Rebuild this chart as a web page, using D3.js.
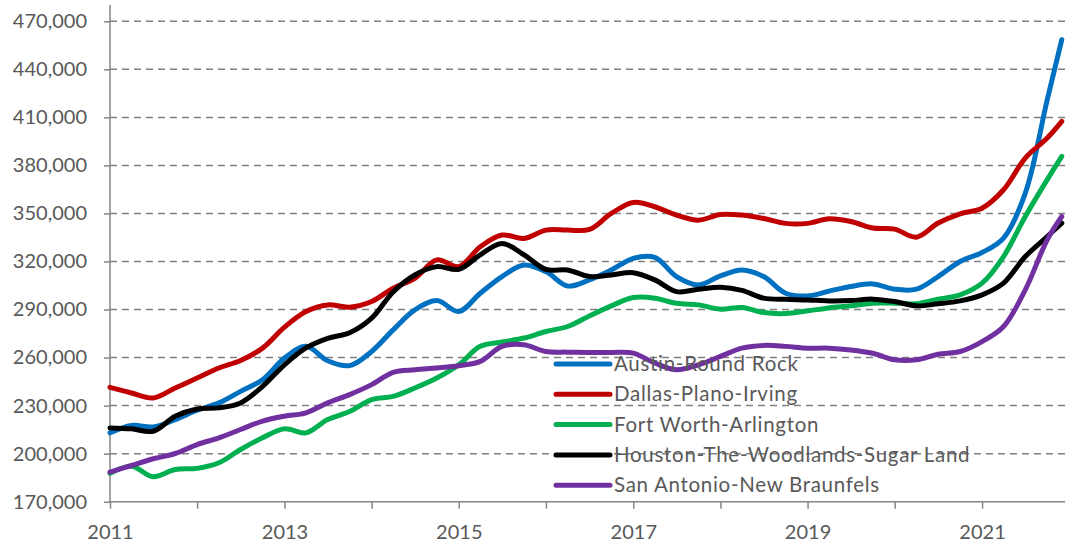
<!doctype html>
<html lang="en">
  <head>
    <meta charset="UTF-8" />
    <title>Texas metro home prices</title>
    <script src="https://unpkg.com/d3@7.9.0/dist/d3.min.js"></script>
    <style>
      body {
        margin: 0;
        overflow: hidden;
        background: #fff;
        font-family: Lato, 'Open Sans', sans-serif;
      }
      .tick text {
        font-size: 20px;
        fill: #595959;
      }
      .legend text {
        font-size: 20.5px;
        letter-spacing: 0.7px;
        fill: #595959;
      }
    </style>
  </head>
  <body>
    <svg width="1065" height="546"></svg>

    <script>
      // quarterly points, values in thousands of dollars
      const dates = [
        '2011-01', '2011-04', '2011-07', '2011-10',
        '2012-01', '2012-04', '2012-07', '2012-10',
        '2013-01', '2013-04', '2013-07', '2013-10',
        '2014-01', '2014-04', '2014-07', '2014-10',
        '2015-01', '2015-04', '2015-07', '2015-10',
        '2016-01', '2016-04', '2016-07', '2016-10',
        '2017-01', '2017-04', '2017-07', '2017-10',
        '2018-01', '2018-04', '2018-07', '2018-10',
        '2019-01', '2019-04', '2019-07', '2019-10',
        '2020-01', '2020-04', '2020-07', '2020-10',
        '2021-01', '2021-04', '2021-07', '2021-10',
        '2021-12',
      ];
      const austin = [
        213, 217.6, 216.7, 221.3, 227.1, 231.7, 238.9, 246.2, 259.7, 267, 258, 255,
        263.8, 277.3, 289.8, 295.6, 288.8, 300.2, 310.6, 317.8, 313.7, 304.7, 308.5, 314.7,
        322, 322.6, 310.6, 305.4, 311, 314.7, 310.6, 300.2, 298.5, 301.5, 304.4, 306,
        302.7, 302.7, 310.6, 320, 325.6, 334.6, 362.7, 421, 458.5,
      ];
      const dallas = [
        241.4, 237.9, 234.8, 241, 247.2, 253.5, 258.2, 265.9, 279, 288.8, 292.9, 291.5,
        295, 303.3, 309.5, 321, 316.8, 329.2, 336.5, 334.4, 339.6, 339.6, 340, 350,
        356.9, 354.2, 349, 345.8, 349.4, 349, 346.9, 343.8, 343.8, 346.7, 345, 340.9,
        340.2, 335.2, 344, 349.8, 353.3, 364.8, 384.6, 397.1, 407.5,
      ];
      const fortWorth = [
        187.7, 192.2, 185.6, 190.1, 190.8, 194.3, 202.6, 209.9, 215.5, 213, 221.3, 226.3,
        233.7, 235.8, 241, 247.2, 255.5, 267, 269.7, 272.2, 276.3, 279.4, 286, 292.3,
        297.5, 297.1, 293.9, 292.9, 290.2, 291.3, 288.1, 287.5, 289.2, 291, 292.3, 294,
        294, 293.6, 296.5, 299.2, 306.5, 323.1, 348.1, 371.1, 385.6,
      ];
      const houston = [
        216.1, 215.5, 214, 223.3, 227.9, 228.6, 231.7, 242, 255.5, 266, 272, 275.5,
        284.6, 301, 311.6, 316.8, 315.1, 324.2, 331.3, 324.2, 315.1, 314.7, 310.6, 311.6,
        313, 308.5, 301.2, 302.7, 303.9, 302, 297.1, 296.4, 296, 295.4, 295.6, 296.5,
        295, 292.3, 293.6, 295.4, 299.2, 306.5, 323.1, 335.6, 344,
      ];
      const sanAntonio = [
        188.5, 192.6, 196.8, 200.1, 205.7, 209.9, 215.1, 220.3, 223.4, 225.5, 231.7, 236.9,
        243.1, 250.8, 252.4, 253.5, 254.9, 257.6, 267, 268, 263.8, 263.4, 263.2, 263.2,
        262.8, 256.6, 252.4, 255.5, 260.7, 265.9, 267.6, 267, 265.9, 265.9, 264.8, 262.7,
        258.6, 258.6, 262.1, 263.8, 270, 279.4, 302.3, 333.6, 348.1,
      ];
      const names = [
        'Austin-Round Rock',
        'Dallas-Plano-Irving',
        'Fort Worth-Arlington',
        'Houston-The-Woodlands-Sugar Land',
        'San Antonio-New Braunfels',
      ];
      const colors = ['#0070C0', '#C00000', '#00B050', '#000000', '#7030A0'];
      const yTicks = [170, 200, 230, 260, 290, 320, 350, 380, 410, 440, 470];
      const xLabels = [2011, 2013, 2015, 2017, 2019, 2021];

      const series = [austin, dallas, fortWorth, houston, sanAntonio];
      const parse = d3.timeParse('%Y-%m');
      const time = dates.map(parse);

      const svg = d3.select('svg');
      const plotLeft = 110,
        plotRight = 1065,
        plotTop = 21.3,
        plotBottom = 501.7;

      const x = d3
        .scaleTime()
        .domain([new Date(2011, 0, 1), new Date(2022, 0, 1)])
        .range([plotLeft, 1069.2]);
      const y = d3.scaleLinear().domain([170, 470]).range([plotBottom, plotTop]);

      // dashed grid
      svg
        .append('g')
        .selectAll('line')
        .data(yTicks.slice(1))
        .join('line')
        .attr('x1', plotLeft)
        .attr('x2', plotRight)
        .attr('y1', (d) => y(d))
        .attr('y2', (d) => y(d))
        .attr('stroke', '#808080')
        .attr('stroke-width', 1.5)
        .attr('stroke-dasharray', '7,5');

      // y axis
      const yAxis = svg
        .append('g')
        .attr('transform', `translate(${plotLeft},0)`)
        .call(
          d3
            .axisLeft(y)
            .tickValues(yTicks)
            .tickSize(6)
            .tickPadding(17)
            .tickFormat((d) => d3.format(',')(d * 1000)),
        );
      yAxis.select('.domain').remove();
      yAxis.selectAll('.tick line').attr('stroke', '#868686').attr('stroke-width', 1.5);
      yAxis.selectAll('.tick text').attr('font-family', 'Lato, sans-serif');
      svg
        .append('line')
        .attr('x1', plotLeft)
        .attr('x2', plotLeft)
        .attr('y1', 5)
        .attr('y2', plotBottom)
        .attr('stroke', '#868686')
        .attr('stroke-width', 1.5);

      // x axis
      const xAxis = svg
        .append('g')
        .attr('transform', `translate(0,${plotBottom})`)
        .call(
          d3
            .axisBottom(x)
            .ticks(d3.timeYear.every(1))
            .tickSize(7)
            .tickPadding(16)
            .tickFormat((d) =>
              xLabels.includes(d.getFullYear()) ? d.getFullYear() : '',
            ),
        );
      xAxis.select('.domain').remove();
      xAxis.selectAll('.tick line').attr('stroke', '#868686').attr('stroke-width', 1.5);
      xAxis.selectAll('.tick text').attr('font-family', 'Lato, sans-serif');
      svg
        .append('line')
        .attr('x1', plotLeft)
        .attr('x2', plotRight)
        .attr('y1', plotBottom)
        .attr('y2', plotBottom)
        .attr('stroke', '#868686')
        .attr('stroke-width', 1.5);

      // lines
      const line = d3
        .line()
        .x((d, i) => x(time[i]))
        .y((d) => y(d))
        .curve(d3.curveCatmullRom.alpha(0.5));

      svg
        .append('g')
        .selectAll('path')
        .data(series)
        .join('path')
        .attr('d', line)
        .attr('fill', 'none')
        .attr('stroke', (d, i) => colors[i])
        .attr('stroke-width', 5)
        .attr('stroke-linejoin', 'round')
        .attr('stroke-linecap', 'round');

      // legend
      const legend = svg
        .append('g')
        .attr('class', 'legend')
        .selectAll('g')
        .data(names)
        .join('g')
        .attr('transform', (d, i) => `translate(556,${364 + i * 30.3})`);

      legend
        .append('line')
        .attr('x1', 0)
        .attr('x2', 54)
        .attr('stroke', (d, i) => colors[i])
        .attr('stroke-width', 5)
        .attr('stroke-linecap', 'round');

      legend
        .append('text')
        .attr('x', 58)
        .attr('dy', '0.35em')
        .text((d) => d);
    </script>
  </body>
</html>
